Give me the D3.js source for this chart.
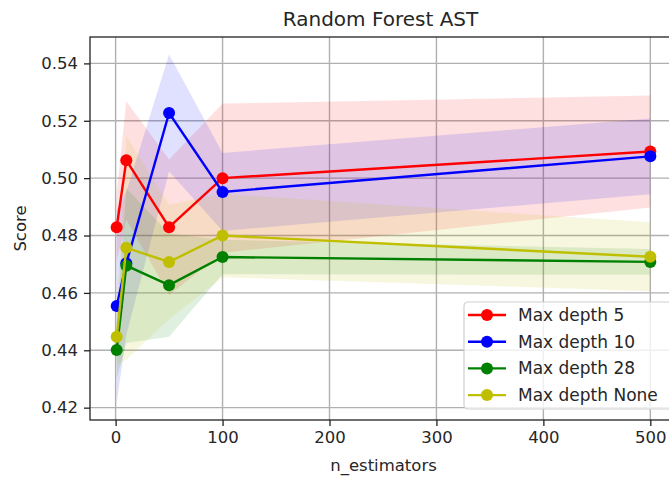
<!DOCTYPE html>
<html>
<head>
<meta charset="utf-8">
<script src="https://cdn.jsdelivr.net/npm/d3@7"></script>
<style>
  body { margin: 0; background: #fff; }
  svg { display: block; font-family: "DejaVu Sans", sans-serif; }
</style>
</head>
<body>
<div id="chart"></div>
<script>
const nEstimators = [1, 10, 50, 100, 500];

const depth5Mean = [0.4829, 0.5062, 0.4829, 0.5000, 0.5093];
const depth5Std = [0.012, 0.0206, 0.0236, 0.026, 0.0195];
const depth10Mean = [0.4554, 0.4703, 0.5227, 0.4952, 0.5076];
const depth10Std = [0.0336, 0.025, 0.0204, 0.0136, 0.0132];
const depth28Mean = [0.4401, 0.4695, 0.4627, 0.4725, 0.4708];
const depth28Std = [0.010, 0.027, 0.018, 0.006, 0.0045];
const depthNoneMean = [0.4447, 0.4757, 0.4708, 0.4800, 0.4726];
const depthNoneStd = [0.010, 0.039, 0.02, 0.0145, 0.012];

const seriesNames = ["Max depth 5", "Max depth 10", "Max depth 28", "Max depth None"];
const seriesColors = ["#ff0000", "#0000ff", "#008000", "#bfbf00"];

const xTicks = [0, 100, 200, 300, 400, 500];
const yTicks = [0.42, 0.44, 0.46, 0.48, 0.50, 0.52, 0.54];

const series = [
  {mean: depth5Mean, std: depth5Std},
  {mean: depth10Mean, std: depth10Std},
  {mean: depth28Mean, std: depth28Std},
  {mean: depthNoneMean, std: depthNoneStd}
].map((s, i) => ({
  name: seriesNames[i],
  color: seriesColors[i],
  points: nEstimators.map((n, j) => ({n: n, m: s.mean[j], sd: s.std[j]}))
}));

const margin = {top: 37, left: 90},
    width = 587,
    height = 383;

const svg = d3.select("#chart")
  .append("svg")
    .attr("width", 669)
    .attr("height", 481);

const g = svg.append("g")
    .attr("transform", `translate(${margin.left},${margin.top})`);

const x = d3.scaleLinear()
    .domain([-23.95, 524.95])
    .range([0, width]);

const y = d3.scaleLinear()
    .domain([0.4157, 0.5492])
    .range([height, 0]);

// grid
g.append("g")
  .selectAll("line")
  .data(xTicks)
  .enter().append("line")
    .attr("x1", d => x(d)).attr("x2", d => x(d))
    .attr("y1", 0).attr("y2", height)
    .attr("stroke", "#b0b0b0")
    .attr("stroke-width", 1.4);

g.append("g")
  .selectAll("line")
  .data(yTicks)
  .enter().append("line")
    .attr("x1", 0).attr("x2", width)
    .attr("y1", d => y(d)).attr("y2", d => y(d))
    .attr("stroke", "#b0b0b0")
    .attr("stroke-width", 1.4);

const area = d3.area()
    .x(d => x(d.n))
    .y0(d => y(d.m - d.sd))
    .y1(d => y(d.m + d.sd));

const line = d3.line()
    .x(d => x(d.n))
    .y(d => y(d.m));

series.forEach(s => {
  g.append("path")
    .datum(s.points)
    .attr("d", area)
    .attr("fill", s.color)
    .attr("fill-opacity", 0.12)
    .attr("stroke", "none");
});

series.forEach(s => {
  g.append("path")
    .datum(s.points)
    .attr("d", line)
    .attr("fill", "none")
    .attr("stroke", s.color)
    .attr("stroke-width", 2.4);

  g.selectAll(null)
    .data(s.points)
    .enter().append("circle")
      .attr("cx", d => x(d.n))
      .attr("cy", d => y(d.m))
      .attr("r", 6)
      .attr("fill", s.color);
});

// axes
const xAxis = g.append("g")
    .attr("transform", `translate(0,${height})`)
    .call(d3.axisBottom(x).tickValues(xTicks).tickSize(6).tickPadding(5).tickFormat(d3.format("d")));

const yAxis = g.append("g")
    .call(d3.axisLeft(y).tickValues(yTicks).tickSize(6).tickPadding(6).tickFormat(d3.format(".2f")));

[xAxis, yAxis].forEach(a => {
  a.select(".domain").remove();
  a.selectAll("line").attr("stroke", "#222").attr("stroke-width", 1.3);
  a.selectAll("text")
    .attr("fill", "#262626")
    .style("font-size", "16.5px")
    .style("font-family", "DejaVu Sans");
});

// spines
g.append("rect")
    .attr("x", 0).attr("y", 0)
    .attr("width", width).attr("height", height)
    .attr("fill", "none")
    .attr("stroke", "#222")
    .attr("stroke-width", 1.3);

// labels
svg.append("text")
    .attr("x", margin.left + width / 2 - 3)
    .attr("y", 26)
    .attr("text-anchor", "middle")
    .attr("fill", "#262626")
    .style("font-size", "20px")
    .text("Random Forest AST");

svg.append("text")
    .attr("x", margin.left + width / 2)
    .attr("y", 471)
    .attr("text-anchor", "middle")
    .attr("fill", "#262626")
    .style("font-size", "16.5px")
    .text("n_estimators");

svg.append("text")
    .attr("transform", `translate(26,${margin.top + height / 2}) rotate(-90)`)
    .attr("text-anchor", "middle")
    .attr("fill", "#262626")
    .style("font-size", "16.5px")
    .text("Score");

// legend
const legend = svg.append("g")
    .attr("transform", "translate(464,302)");

legend.append("rect")
    .attr("width", 212)
    .attr("height", 107)
    .attr("rx", 4)
    .attr("fill", "#fff")
    .attr("fill-opacity", 0.8)
    .attr("stroke", "#d0d0d0")
    .attr("stroke-width", 1.2);

const item = legend.selectAll(".item")
  .data(series)
  .enter().append("g")
    .attr("transform", (d, i) => `translate(0,${13 + i * 26.7})`);

item.append("line")
    .attr("x1", 4).attr("x2", 42)
    .attr("stroke", d => d.color)
    .attr("stroke-width", 2.4);

item.append("circle")
    .attr("cx", 23)
    .attr("r", 6)
    .attr("fill", d => d.color);

item.append("text")
    .attr("x", 54)
    .attr("dy", "0.35em")
    .attr("fill", "#262626")
    .style("font-size", "17px")
    .text(d => d.name);
</script>
</body>
</html>
